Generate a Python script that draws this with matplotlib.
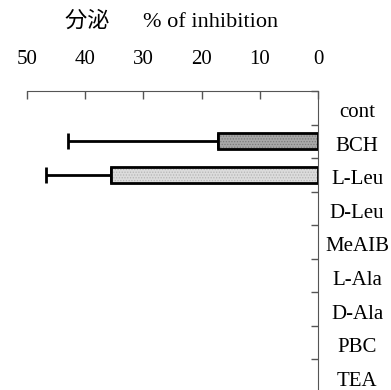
import matplotlib
matplotlib.use("Agg")
import matplotlib.pyplot as plt
import matplotlib.transforms as mtrans
import numpy as np

categories = ["cont", "BCH", "L-Leu", "D-Leu", "MeAIB", "L-Ala", "D-Ala", "PBC", "TEA"]
values = [0, 17.2, 35.6, 0, 0, 0, 0, 0, 0]
errors = [0, 25.8, 11.1, 0, 0, 0, 0, 0, 0]
bar_colors = ["white", "#a8a8a8", "#dcdcdc", "white", "white", "white", "white", "white", "white"]
hatch_colors = ["white", "#7a7a7a", "#b5b5b5", "white", "white", "white", "white", "white", "white"]
xticks = [0, 10, 20, 30, 40, 50]
title = "分泌　  % of inhibition"

fam = ["Liberation Serif", "Noto Sans CJK JP"]
plt.rcParams["font.family"] = fam
plt.rcParams["hatch.linewidth"] = 0.6

W, H = 391, 390
fig = plt.figure(figsize=(W / 100, H / 100), dpi=100)
x0, x1 = 27, 318
ytop, ybot = 91, 393
ax = fig.add_axes([x0 / W, 1 - ybot / H, (x1 - x0) / W, (ybot - ytop) / H])

n = len(categories)
ypos = np.arange(n)
for i in range(n):
    if values[i] > 0:
        ax.barh(ypos[i], values[i], height=0.47, color=bar_colors[i],
                edgecolor=hatch_colors[i], linewidth=0, hatch="......", zorder=3)
        ax.barh(ypos[i], values[i], height=0.47, facecolor="none",
                edgecolor="black", linewidth=2.0, zorder=4)
        ax.errorbar(values[i], ypos[i], xerr=[[0], [errors[i]]], fmt="none",
                    ecolor="black", elinewidth=2.0, capsize=5.5, capthick=2.0, zorder=2)

ax.set_xlim(50, 0)
ax.set_ylim(n - 0.5, -0.5)
ax.xaxis.tick_top()
ax.set_xticks(xticks)
ax.set_xticklabels([str(t) for t in xticks], fontsize=15)
ax.tick_params(axis="x", direction="in", length=6, width=1, pad=16, color="#555555")

ax.yaxis.tick_right()
ax.set_yticks(ypos)
ax.set_yticklabels([])
ax.set_yticks(np.arange(n + 1) - 0.5, minor=True)
ax.tick_params(axis="y", which="major", length=0)
ax.tick_params(axis="y", which="minor", direction="in", length=5, width=1, color="#555555")
trans = mtrans.blended_transform_factory(fig.transFigure, ax.transData)
for yi, lab in zip(ypos, categories):
    ax.text(357 / W, yi + 0.28, lab, transform=trans, ha="center", va="baseline",
            fontsize=15, family=fam, clip_on=False)

ax.spines["left"].set_visible(False)
ax.spines["bottom"].set_visible(False)
ax.spines["top"].set_color("#555555")
ax.spines["right"].set_color("#555555")

fig.text(172 / W, 1 - 22 / H, title, ha="center", va="center", fontsize=16, family=fam)

fig.savefig("out.png", dpi=100)
